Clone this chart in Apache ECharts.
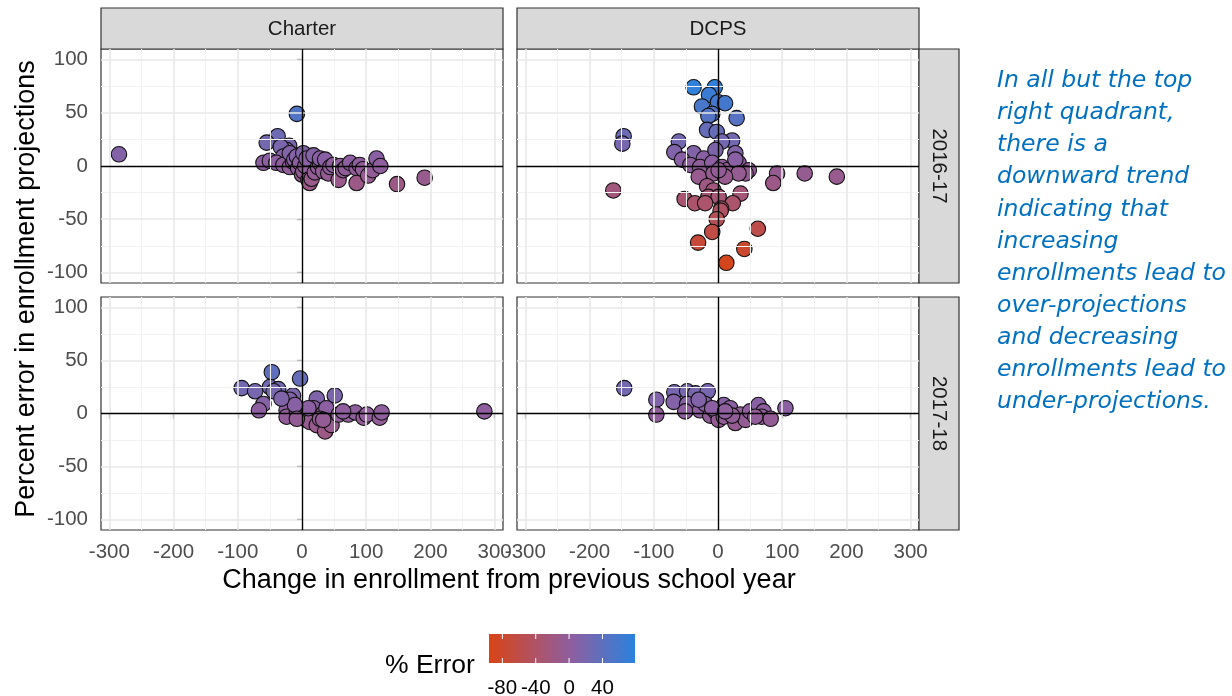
<!DOCTYPE html>
<html>
<head>
<meta charset="utf-8">
<title>Percent error in enrollment projections</title>
<script src="https://cdn.jsdelivr.net/npm/echarts@6/dist/echarts.min.js"></script>
<style>
  html, body { margin: 0; padding: 0; background: #fff; }
  #chart { width: 1232px; height: 696px; }
</style>
</head>
<body>
<div id="chart"></div>
<script>
// facet labels
const sectors = ['Charter', 'DCPS']
const years = ['2016-17', '2017-18']

// axis breaks
const xTicks = [-300, -200, -100, 0, 100, 200, 300]
const xMinor = [-250, -150, -50, 50, 150, 250]
const yTicks = [-100, -50, 0, 50, 100]
const yMinor = [-75, -25, 25, 75]
const legendBreaks = [-80, -40, 0, 40]

// [change in enrollment, percent error]
const charter1617 = [
  [-285, 11], [-8, 49], [-38, 28], [-55, 22], [-20, 19], [-24, 15], [-33, 18], [-29, 9],
  [-60, 3], [-50, 5], [-40, 3], [-29, 1], [-19, -1], [-14, 4], [-19, 12], [-12, 6], [-8, 9],
  [-6, -2], [-3, 3], [0, -8], [2, -5], [2, 12], [5, 0], [7, 7], [10, -13], [12, -16], [15, -12],
  [18, 10], [20, -6], [25, -1], [28, 3], [28, 7], [33, -5], [36, 6], [41, -7], [44, -1],
  [49, 1], [57, -13], [59, 0], [64, -4], [68, -2], [75, 3], [85, -2], [85, -16], [90, 1],
  [95, -3], [103, -9], [110, -4], [116, 7], [122, 0], [148, -17], [191, -11]
]
const dcps1617 = [
  [-38, 74], [-5, 74], [-14, 67], [0, 60], [11, 59], [-25, 56], [-9, 49], [-15, 47], [29, 45],
  [-17, 34], [-2, 32], [22, 24], [6, 23], [-147, 28], [-149, 21], [-61, 23], [-68, 13],
  [-38, 12], [-22, 7], [-4, 15], [27, 12], [-56, 6], [-43, 1], [-28, -1], [-9, 3], [6, -1],
  [14, -4], [32, 3], [27, 6], [48, -4], [43, -7], [32, -7], [92, -7], [135, -7], [185, -10],
  [86, -16], [-30, -10], [-7, -7], [11, -10], [1, -4], [-163, -23], [-17, -19], [-7, -23],
  [-15, -29], [1, -29], [35, -26], [-52, -31], [-36, -35], [-20, -35], [23, -35], [5, -40],
  [4, -42], [-2, -50], [-9, -62], [62, -59], [-31, -72], [41, -78], [13, -91]
]
const charter1718 = [
  [284, 2], [-47, 39], [-3, 33], [-94, 24], [-73, 21], [-50, 25], [-37, 23], [-44, 21],
  [-14, 17], [-19, 13], [-60, 9], [-67, 3], [51, 17], [23, 14], [-24, 3], [-24, -3], [-8, 2],
  [-1, 0], [2, -3], [7, -6], [12, -8], [18, 5], [23, -11], [36, -17], [46, -11], [33, 0],
  [38, 5], [57, -1], [72, -1], [83, 1], [96, -4], [101, -1], [121, -4], [124, 1], [10, 5],
  [-11, 8], [-32, 14], [28, -5], [64, 2], [33, -6], [-8, -5]
]
const dcps1718 = [
  [-146, 24], [-96, 13], [-96, -1], [-68, 20], [-48, 21], [-69, 11], [-35, 19], [-16, 21],
  [-48, 9], [-51, 2], [-28, 3], [-20, 9], [-12, -2], [-4, 2], [1, -6], [9, -3], [9, 8],
  [19, 5], [27, -9], [35, -1], [43, -6], [50, 2], [63, 8], [71, 2], [68, -3], [82, -5],
  [105, 5], [58, -3], [22, -2], [-9, 5], [-30, 13], [11, 2]
]

const annotationLines = [
  'In all but the top', 'right quadrant,', 'there is a', 'downward trend',
  'indicating that', 'increasing', 'enrollments lead to', 'over-projections',
  'and decreasing', 'enrollments lead to', 'under-projections.'
]

// red -> purple -> blue, evenly spaced over [errMin, errMax]
const errMin = -96
const errMax = 79
const errorColors = ['#d84416', '#c64a39', '#b3515d', '#a05880', '#8c5fa1', '#6b6bb5', '#4b76c9', '#2a82dd']

const FONT = '"Liberation Sans", Arial, Helvetica, sans-serif'

const panels = [
  { data: charter1617, left: 101, top: 49, height: 234, bottom: false, leftAxis: true },
  { data: dcps1617, left: 517, top: 49, height: 234, bottom: false, leftAxis: false },
  { data: charter1718, left: 101, top: 297, height: 233, bottom: true, leftAxis: true },
  { data: dcps1718, left: 517, top: 297, height: 233, bottom: true, leftAxis: false }
]
const panelWidth = 402

const chart = echarts.init(document.getElementById('chart'), null, { renderer: 'canvas' })

const grids = panels.map((p) => ({
  left: p.left,
  top: p.top,
  width: panelWidth,
  height: p.height,
  show: true,
  backgroundColor: '#fff',
  borderColor: '#333333',
  borderWidth: 1.2,
  containLabel: false
}))

const xAxes = panels.map((p, i) => ({
  gridIndex: i,
  type: 'value',
  min: -313,
  max: 313,
  splitLine: { show: false },
  axisLine: { show: false },
  axisTick: {
    show: p.bottom,
    customValues: xTicks,
    length: 5,
    lineStyle: { color: '#333333', width: 1.2 }
  },
  axisLabel: {
    show: p.bottom,
    customValues: xTicks,
    color: '#4d4d4d',
    fontSize: 20.5,
    fontFamily: FONT,
    margin: 12
  }
}))

const yAxes = panels.map((p, i) => ({
  gridIndex: i,
  type: 'value',
  min: -110,
  max: 110,
  splitLine: { show: false },
  axisLine: { show: false },
  axisTick: {
    show: p.leftAxis,
    customValues: yTicks,
    length: 5,
    lineStyle: { color: '#333333', width: 1.2 }
  },
  axisLabel: {
    show: p.leftAxis,
    customValues: yTicks,
    color: '#4d4d4d',
    fontSize: 20.5,
    fontFamily: FONT,
    margin: 13
  }
}))

const minorStyle = { color: '#f2f2f2', width: 1, type: 'solid' }
const majorStyle = { color: '#e9e9e9', width: 1.6, type: 'solid' }
const zeroStyle = { color: '#000000', width: 1.4, type: 'solid' }

const gridLines = [
  ...xMinor.map((v) => ({ xAxis: v, lineStyle: minorStyle })),
  ...yMinor.map((v) => ({ yAxis: v, lineStyle: minorStyle })),
  ...xTicks.filter((v) => v !== 0).map((v) => ({ xAxis: v, lineStyle: majorStyle })),
  ...yTicks.filter((v) => v !== 0).map((v) => ({ yAxis: v, lineStyle: majorStyle })),
  { xAxis: 0, lineStyle: zeroStyle },
  { yAxis: 0, lineStyle: zeroStyle }
]

const series = []
const scatterIndices = []
panels.forEach((p, i) => {
  series.push({
    type: 'line',
    xAxisIndex: i,
    yAxisIndex: i,
    data: [],
    z: 1,
    silent: true,
    markLine: {
      silent: true,
      symbol: ['none', 'none'],
      label: { show: false },
      animation: false,
      data: gridLines
    }
  })
  scatterIndices.push(series.length)
  series.push({
    type: 'scatter',
    xAxisIndex: i,
    yAxisIndex: i,
    data: p.data,
    symbol: 'circle',
    symbolSize: 15.5,
    z: 3,
    itemStyle: { borderColor: '#111111', borderWidth: 1.1, opacity: 1 }
  })
})

// facet strips
const graphics = []
sectors.forEach((s, i) => {
  const left = panels[i].left
  graphics.push({
    type: 'rect',
    shape: { x: left, y: 8, width: panelWidth, height: 41 },
    style: { fill: '#d9d9d9', stroke: '#333333', lineWidth: 1.2 }
  })
  graphics.push({
    type: 'text',
    x: left + panelWidth / 2,
    y: 29,
    style: {
      text: s, fill: '#1a1a1a', fontSize: 20.5, fontFamily: FONT,
      align: 'center', verticalAlign: 'middle', textAlign: 'center', textVerticalAlign: 'middle'
    }
  })
})
years.forEach((yr, i) => {
  const p = panels[i * 2 + 1]
  graphics.push({
    type: 'rect',
    shape: { x: p.left + panelWidth, y: p.top, width: 40, height: p.height },
    style: { fill: '#d9d9d9', stroke: '#333333', lineWidth: 1.2 }
  })
  graphics.push({
    type: 'text',
    x: p.left + panelWidth + 20,
    y: p.top + p.height / 2,
    rotation: -Math.PI / 2,
    style: {
      text: yr, fill: '#1a1a1a', fontSize: 20.5, fontFamily: FONT,
      align: 'center', verticalAlign: 'middle', textAlign: 'center', textVerticalAlign: 'middle'
    }
  })
})

// axis titles
graphics.push({
  type: 'text',
  x: 509,
  y: 581,
  style: {
    text: 'Change in enrollment from previous school year', fill: '#000', fontSize: 27, fontFamily: FONT,
    align: 'center', verticalAlign: 'middle', textAlign: 'center', textVerticalAlign: 'middle'
  }
})
graphics.push({
  type: 'text',
  x: 27,
  y: 289,
  rotation: Math.PI / 2,
  style: {
    text: 'Percent error in enrollment projections', fill: '#000', fontSize: 27, fontFamily: FONT,
    align: 'center', verticalAlign: 'middle', textAlign: 'center', textVerticalAlign: 'middle'
  }
})

// colour bar legend
const barX = 489
const barY = 634
const barW = 146
const barH = 29
const barPos = (v) => barX + (v - errMin) / (errMax - errMin) * barW
graphics.push({
  type: 'rect',
  shape: { x: barX, y: barY, width: barW, height: barH },
  style: {
    fill: new echarts.graphic.LinearGradient(0, 0, 1, 0,
      errorColors.map((c, k) => ({ offset: k / (errorColors.length - 1), color: c })))
  }
})
legendBreaks.forEach((b) => {
  const x = barPos(b)
  graphics.push({ type: 'line', shape: { x1: x, y1: barY, x2: x, y2: barY + 5 }, style: { stroke: '#fff', lineWidth: 1 } })
  graphics.push({ type: 'line', shape: { x1: x, y1: barY + barH - 5, x2: x, y2: barY + barH }, style: { stroke: '#fff', lineWidth: 1 } })
  graphics.push({
    type: 'text',
    x: x,
    y: 688,
    style: {
      text: String(b), fill: '#000', fontSize: 20.5, fontFamily: FONT,
      align: 'center', verticalAlign: 'middle', textAlign: 'center', textVerticalAlign: 'middle'
    }
  })
})
graphics.push({
  type: 'text',
  x: 385,
  y: 666,
  style: {
    text: '% Error', fill: '#000', fontSize: 26.5, fontFamily: FONT,
    align: 'left', verticalAlign: 'middle', textAlign: 'left', textVerticalAlign: 'middle'
  }
})

// side note
annotationLines.forEach((line, k) => {
  graphics.push({
    type: 'text',
    x: 997,
    y: 81 + k * 32.1,
    style: {
      text: line, fill: '#0070c0', fontSize: 23.5, fontStyle: 'italic', fontFamily: '"DejaVu Sans", Verdana, sans-serif',
      align: 'left', verticalAlign: 'middle', textAlign: 'left', textVerticalAlign: 'middle'
    }
  })
})

const option = {
  animation: false,
  backgroundColor: '#fff',
  grid: grids,
  xAxis: xAxes,
  yAxis: yAxes,
  visualMap: {
    type: 'continuous',
    show: false,
    dimension: 1,
    min: errMin,
    max: errMax,
    seriesIndex: scatterIndices,
    inRange: { color: errorColors }
  },
  graphic: graphics,
  series: series
}

chart.setOption(option)
</script>
</body>
</html>
